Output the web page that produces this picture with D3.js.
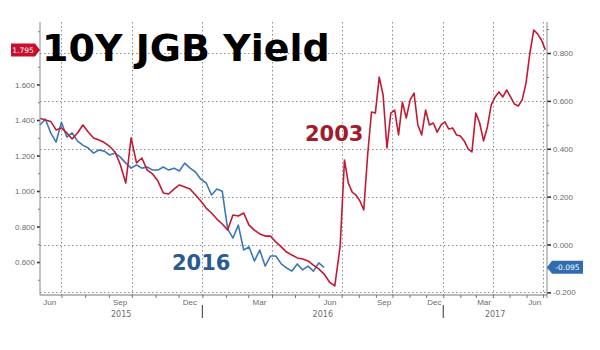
<!DOCTYPE html>
<html lang="en">
<head>
<meta charset="UTF-8">
<title>10Y JGB Yield</title>
<script src="https://cdn.jsdelivr.net/npm/d3@7/dist/d3.min.js"></script>
<style>
  * { margin: 0; padding: 0; }
  body { background: #fff; }
  svg { display: block; font-family: "DejaVu Sans", Verdana, sans-serif; }
  .axis text { fill: #6b6b6b; font-size: 8px; }
  .axis line { stroke: #333; }
  .axis.minor line { stroke: #777; }
</style>
</head>
<body>
<svg width="600" height="350"></svg>
<script>
// Weekly closes. The 2002-04 path is shifted forward 13 years to overlay 2015-17.
const firstWeek = '2015-06-03';

const yield2003 = [
  1.410, 1.400, 1.392, 1.344, 1.355, 1.327, 1.293, 1.327, 1.372, 1.332,
  1.299, 1.287, 1.273, 1.251, 1.220, 1.147, 1.045, 1.299, 1.158, 1.186,
  1.118, 1.096, 1.056, 0.989, 0.983, 1.011, 1.034, 1.023, 1.011, 0.977,
  0.944, 0.904, 0.876, 0.842, 0.814, 0.780, 0.865, 0.859, 0.876, 0.808,
  0.780, 0.758, 0.746, 0.746, 0.713, 0.685, 0.656, 0.639, 0.623, 0.617,
  0.606, 0.583, 0.561, 0.532, 0.487, 0.465, 0.690, 1.175, 1.045, 0.994,
  0.977, 0.944, 0.893, 1.203, 1.445, 1.439, 1.642, 1.541, 1.242, 1.439,
  1.456, 1.316, 1.501, 1.411, 1.513, 1.552, 1.372, 1.316, 1.456, 1.372,
  1.383, 1.332, 1.372, 1.389, 1.349, 1.355, 1.316, 1.310, 1.282, 1.237,
  1.220, 1.439, 1.383, 1.282, 1.361, 1.485, 1.530, 1.558, 1.530, 1.569,
  1.530, 1.490, 1.479, 1.513, 1.608, 1.777, 1.907, 1.885, 1.851, 1.795
];

const yield2016 = [
  0.499, 0.524, 0.466, 0.428, 0.511, 0.449, 0.466, 0.432, 0.415, 0.403,
  0.382, 0.395, 0.390, 0.374, 0.382, 0.365, 0.340, 0.319, 0.332, 0.319,
  0.324, 0.311, 0.311, 0.324, 0.311, 0.319, 0.307, 0.340, 0.319, 0.303,
  0.273, 0.257, 0.207, 0.232, 0.223, 0.065, 0.027, 0.081, -0.023, -0.010,
  -0.069, -0.023, -0.090, -0.048, -0.048, -0.081, -0.098, -0.111, -0.081, -0.106,
  -0.090, -0.111, -0.077, -0.095
];

const leftTicks = [0.6, 0.8, 1.0, 1.2, 1.4, 1.6];
const leftMinor = [0.5, 0.7, 0.9, 1.1, 1.3, 1.5, 1.7, 1.9];
const rightTicks = [-0.2, 0, 0.2, 0.4, 0.6, 0.8];
const rightMinor = [-0.1, 0.1, 0.3, 0.5, 0.7, 0.9];
const monthLabels = ['2015-06-15', '2015-09-15', '2015-12-15', '2016-03-15', '2016-06-15',
                     '2016-09-15', '2016-12-15', '2017-03-15', '2017-06-15'];
const years = ['2015', '2016', '2017'];

const RED = '#c21a33';
const BLUE = '#3b79b6';

const parse = d3.timeParse('%Y-%m-%d');
const svg = d3.select('svg');
const box = { left: 40, right: 547, top: 22, bottom: 295 };

// Bloomberg squeezes the second year, so the time scale has two segments
const x = d3.scaleTime()
  .domain([parse('2015-06-03'), parse('2016-07-01'), parse('2017-07-08')])
  .range([box.left, 341.7, box.right]);

const yLeft = d3.scaleLinear().domain([0.6, 1.6]).range([262, 84.5]);
const yRight = d3.scaleLinear().domain([-0.2, 0.8]).range([292.4, 53]);

const start = parse(firstWeek);
const weekOf = (i) => d3.timeDay.offset(start, i * 7);

// plain hyphen for negatives, as on the terminal
const fmt = (v) => d3.format('.3f')(v).replace('\u2212', '-');

// Grid: horizontal on the right-axis levels, vertical at quarter starts
const quarters = d3.timeMonth.every(3).range(parse('2015-07-01'), parse('2017-07-02'));
const grid = svg.append('g')
  .attr('stroke', '#8e8e8e').attr('stroke-width', 1).attr('stroke-dasharray', '1.5 2.5');
grid.append('g').selectAll('line').data(rightTicks).join('line')
  .attr('x1', box.left).attr('x2', box.right)
  .attr('y1', d => Math.round(yRight(d)) + 0.5).attr('y2', d => Math.round(yRight(d)) + 0.5);
grid.append('g').selectAll('line').data(quarters).join('line')
  .attr('x1', d => Math.round(x(d)) + 0.5).attr('x2', d => Math.round(x(d)) + 0.5)
  .attr('y1', box.top).attr('y2', box.bottom);

// Title
svg.append('text')
  .attr('x', 42).attr('y', 61)
  .attr('font-size', 38).attr('font-weight', 'bold').attr('fill', '#000')
  .text('10Y JGB Yield');

// Series
const lineRed = d3.line().x((d, i) => x(weekOf(i))).y(d => yLeft(d));
const lineBlue = d3.line().x((d, i) => x(weekOf(i))).y(d => yRight(d));

svg.append('path').datum(yield2016)
  .attr('d', lineBlue).attr('fill', 'none')
  .attr('stroke', BLUE).attr('stroke-width', 1.6).attr('stroke-linejoin', 'round');
svg.append('path').datum(yield2003)
  .attr('d', lineRed).attr('fill', 'none')
  .attr('stroke', RED).attr('stroke-width', 1.6).attr('stroke-linejoin', 'round');

svg.append('text').attr('x', 305).attr('y', 141)
  .attr('font-size', 21).attr('font-weight', 'bold').attr('fill', '#a31a2c')
  .text('2003');
svg.append('text').attr('x', 172).attr('y', 270)
  .attr('font-size', 21).attr('font-weight', 'bold').attr('fill', '#2a5a94')
  .text('2016');

// Left axis
svg.append('g').attr('class', 'axis minor')
  .attr('transform', `translate(${box.left},0)`)
  .call(d3.axisLeft(yLeft).tickValues(leftMinor).tickSize(2).tickFormat(''))
  .call(g => g.select('.domain').remove());
svg.append('g').attr('class', 'axis')
  .attr('transform', `translate(${box.left},0)`)
  .call(d3.axisLeft(yLeft).tickValues(leftTicks).tickSize(3).tickPadding(2).tickFormat(fmt))
  .call(g => g.select('.domain').remove())
  .call(g => g.selectAll('line').attr('stroke-width', 1.6));

// Right axis
svg.append('g').attr('class', 'axis minor')
  .attr('transform', `translate(${box.right},0)`)
  .call(d3.axisRight(yRight).tickValues(rightMinor).tickSize(2).tickFormat(''))
  .call(g => g.select('.domain').remove());
svg.append('g').attr('class', 'axis')
  .attr('transform', `translate(${box.right},0)`)
  .call(d3.axisRight(yRight).tickValues(rightTicks).tickSize(4).tickPadding(2).tickFormat(fmt))
  .call(g => g.select('.domain').remove())
  .call(g => g.selectAll('line').attr('stroke-width', 1.6));

svg.append('line').attr('x1', box.left).attr('x2', box.left)
  .attr('y1', box.top).attr('y2', box.bottom).attr('stroke', '#888');
svg.append('line').attr('x1', box.right).attr('x2', box.right)
  .attr('y1', box.top).attr('y2', box.bottom + 3).attr('stroke', '#888');

// Bottom axis: month ticks, labels mid-month, years under them
const months = d3.timeMonth.range(parse('2015-07-01'), parse('2017-07-02'));
svg.append('g').attr('class', 'axis minor')
  .attr('transform', `translate(0,${box.bottom})`)
  .call(d3.axisBottom(x).tickValues(months).tickSize(3).tickFormat(''))
  .call(g => g.select('.domain').attr('stroke', '#777').attr('d', `M${box.left},0H${box.right}`));
svg.append('g').attr('class', 'axis')
  .attr('transform', `translate(0,${box.bottom})`)
  .call(d3.axisBottom(x).tickValues(monthLabels.map(parse)).tickSize(0).tickPadding(4)
    .tickFormat(d3.timeFormat('%b')))
  .call(g => g.select('.domain').remove());

const yearG = svg.append('g').attr('class', 'axis');
years.forEach(yr => {
  const a = Math.max(box.left, x(parse(yr + '-01-01')));
  const b = Math.min(box.right, x(parse((+yr + 1) + '-01-01')));
  yearG.append('text').attr('x', (a + b) / 2).attr('y', 317)
    .attr('text-anchor', 'middle').text(yr);
});
yearG.selectAll('line').data(['2016-01-01', '2017-01-01']).join('line')
  .attr('x1', d => x(parse(d))).attr('x2', d => x(parse(d)))
  .attr('y1', 305).attr('y2', 318).attr('stroke', '#ccc');

// Last-value tags on each axis
function tag(xTip, y, dir, w, color, label) {
  const h = 13, a = 5;
  const xb = xTip + dir * a, xe = xb + dir * w;
  svg.append('path')
    .attr('d', `M${xTip},${y}L${xb},${y - h / 2}L${xe},${y - h / 2}L${xe},${y + h / 2}L${xb},${y + h / 2}Z`)
    .attr('fill', color);
  svg.append('text').attr('x', (xb + xe) / 2).attr('y', y + 2.8)
    .attr('text-anchor', 'middle').attr('font-size', 7.5).attr('fill', '#fff')
    .text(label);
}
tag(box.left, yLeft(yield2003[yield2003.length - 1]), -1, 24, '#c8102e',
  fmt(yield2003[yield2003.length - 1]));
tag(box.right, yRight(yield2016[yield2016.length - 1]), 1, 31, '#2f6db0',
  fmt(yield2016[yield2016.length - 1]));
</script>
</body>
</html>
